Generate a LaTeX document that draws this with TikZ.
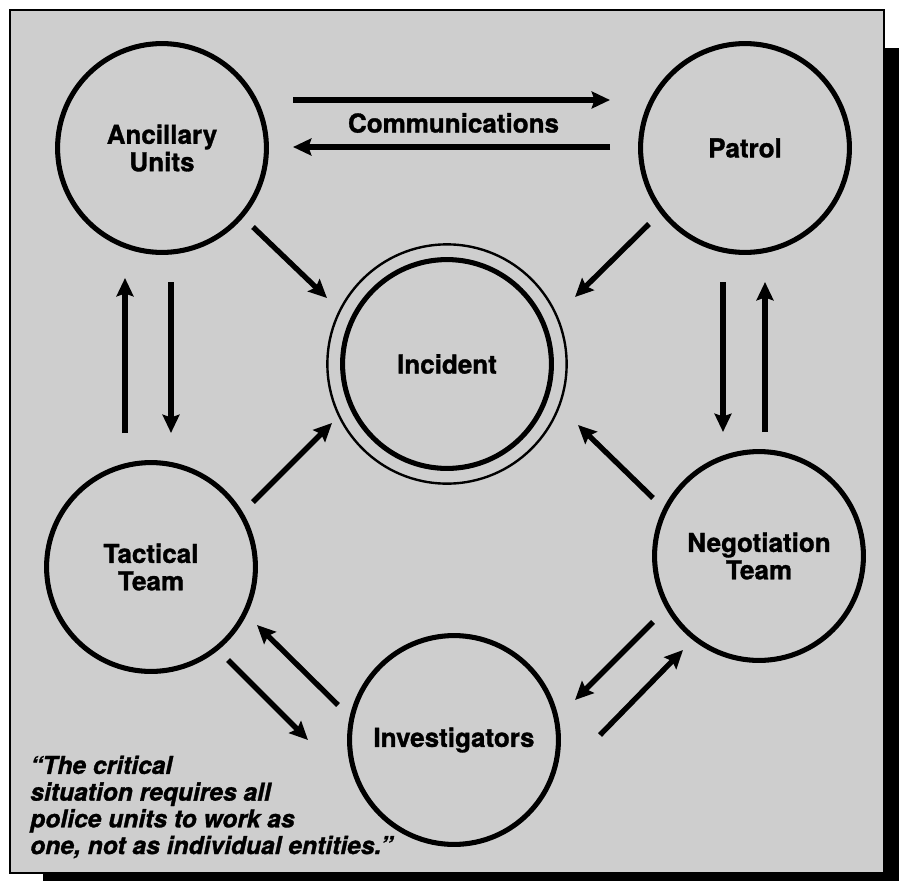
\documentclass[tikz,border=0pt]{standalone}
\usepackage{fontspec}
\setmainfont{TeX Gyre Heros}[BoldFeatures={FakeBold=1.2},BoldItalicFeatures={FakeBold=1.2}]
\usepackage{tikz}
\usetikzlibrary{arrows.meta,calc}
\definecolor{pagegray}{RGB}{206,206,206}
\tikzstyle{arrow} = [line width=3.8pt,-{Stealth[length=13pt,width=12pt,inset=2pt]}]
\tikzstyle{unitcircle} = [circle, draw, line width=3.6pt, minimum size=5.22cm, inner sep=0pt, align=center, font=\fontsize{18.5}{19.5}\selectfont\bfseries]
\tikzstyle{ring} = [line width=1.7pt]

\begin{document}
\begin{tikzpicture}[x=0.025cm,y=-0.025cm]
\useasboundingbox (0,0) rectangle (899,881);
% Frame and shadow
\fill[black] (43,48) rectangle (899,881);
\draw[line width=1.5pt, fill=pagegray] (10,10) rectangle (884,873);
% Units
\node[unitcircle] (ancillary) at (162,148) {Ancillary\\Units};
\node[unitcircle] (patrol) at (745,148) {Patrol};
\node[unitcircle] (tactical) at (151,567) {Tactical\\Team};
\node[unitcircle] (negotiation) at (759,556) {Negotiation\\Team};
\node[unitcircle] (investigators) at (454,740) {Investigators};
% Incident
\node[unitcircle] (incident) at (447,364) {Incident};
\draw[ring] (incident.center) circle[radius=2.99cm];

% Communications
\draw[arrow] ($(ancillary)+(131,-48)$) -- ($(patrol)+(-135,-48)$);
\draw[arrow] ($(patrol)+(-135,-1)$) -- ($(ancillary)+(131,-1)$);
\node[font=\fontsize{18.5}{19.5}\selectfont\bfseries] (comm) at ($(ancillary)!0.5!(patrol)+(0,-25)$) {Communications};

% Into the incident
\draw[arrow] ($(ancillary)+(91,79)$) -- ($(incident)+(-120,-66)$);
\draw[arrow] ($(patrol)+(-96,76)$) -- ($(incident)+(128,-67)$);
\draw[arrow] ($(tactical)+(102,-65)$) -- ($(incident)+(-115,59)$);
\draw[arrow] ($(negotiation)+(-106,-58)$) -- ($(incident)+(131,61)$);

% Between units
\draw[arrow] ($(tactical)+(-26,-134)$) -- ($(ancillary)+(-37,130)$);
\draw[arrow] ($(ancillary)+(9,134)$) -- ($(tactical)+(20,-134)$);
\draw[arrow] ($(patrol)+(-22,134)$) -- ($(negotiation)+(-36,-124)$);
\draw[arrow] ($(negotiation)+(6,-124)$) -- ($(patrol)+(20,134)$);
\draw[arrow] ($(investigators)+(-116,-35)$) -- ($(tactical)+(106,58)$);
\draw[arrow] ($(tactical)+(77,93)$) -- ($(investigators)+(-146,0)$);
\draw[arrow] ($(negotiation)+(-106,66)$) -- ($(investigators)+(121,-40)$);
\draw[arrow] ($(investigators)+(146,-5)$) -- ($(negotiation)+(-76,94)$);

% Quote
\node[anchor=west, align=left, inner sep=0pt, font=\fontsize{17.5}{19}\selectfont\bfseries\itshape] (quote) at (30,807) {``The critical\\situation requires all\\police units to work as\\one, not as individual entities.''};
\end{tikzpicture}
\end{document}
